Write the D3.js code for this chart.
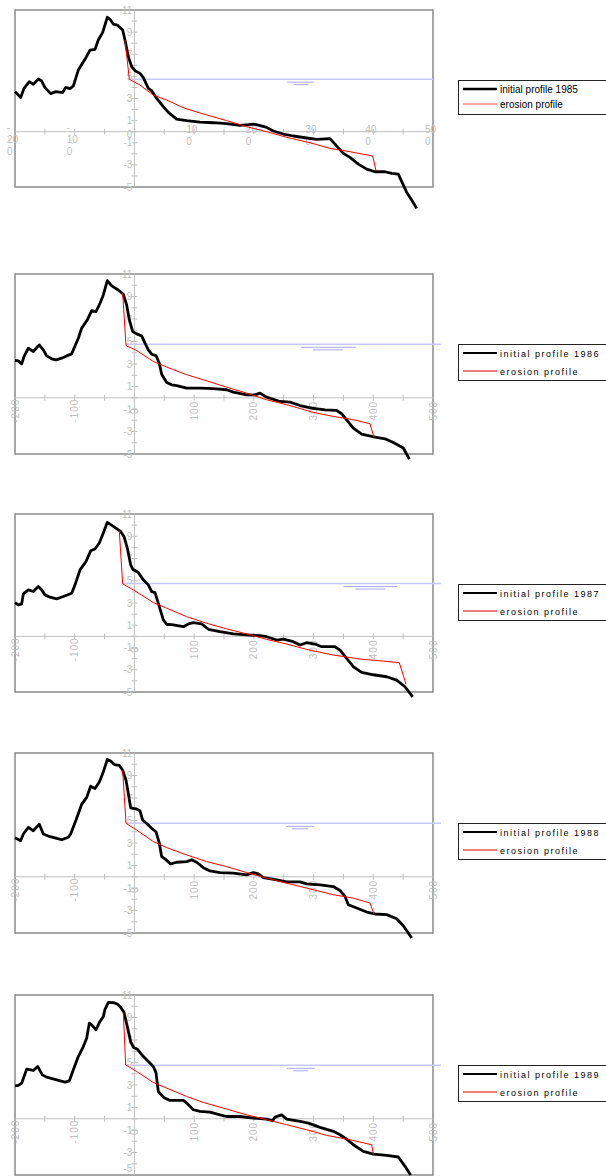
<!DOCTYPE html>
<html><head><meta charset="utf-8">
<script src="https://cdn.jsdelivr.net/npm/d3@7"></script>
<style>body{margin:0;background:#fff}svg{display:block}</style>
</head><body>
<svg id="c" width="606" height="1176"></svg>
<script>
// ---------------- DATA ----------------
const years = [1985, 1986, 1987, 1988, 1989];
const xTicks = [-200, -150, -100, -50, 0, 50, 100, 150, 200, 250, 300, 350, 400, 450, 500];
const xTickLabels = [-200, -100, 0, 100, 200, 300, 400, 500];
const yTicks = [-5,-4,-3,-2,-1,0,1,2,3,4,5,6,7,8,9,10,11];
const yTickLabels = [-5, -3, -1, 1, 3, 5, 7, 9, 11];
const waterLevel = 4.75;
const legendInitial = ["initial profile 1985","initial profile 1986","initial profile 1987","initial profile 1988","initial profile 1989"];
const legendErosion = "erosion profile";

const initial1985 = [[-200,3.62],[-190.5,3.1],[-184.9,3.92],[-176,4.52],[-169.3,4.28],[-161,4.76],[-155.3,4.58],[-149.8,3.98],[-140.3,3.44],[-131.3,3.62],[-120.2,3.53],[-115.2,4.0],[-107.9,3.89],[-102.3,4.13],[-94,5.57],[-82.8,6.54],[-74.4,7.38],[-66,7.44],[-60.5,8.29],[-53.2,8.98],[-45.4,10.34],[-40.9,10.16],[-35.4,9.73],[-28.7,9.64],[-19.7,9.19],[-15.8,8.29],[-10.2,6.78],[-4.6,5.88],[1,5.51],[9.3,5.27],[14.9,4.88],[23.3,3.92],[28.9,3.71],[37.2,3.01],[48.4,2.26],[56.8,1.75],[70.7,1.14],[87.5,1.0],[109.8,0.87],[132.2,0.81],[154.5,0.72],[176.8,0.57],[190.8,0.63],[199.1,0.69],[207.5,0.6],[221.5,0.39],[232.6,0.06],[249.4,-0.21],[266.1,-0.39],[288.4,-0.57],[305.2,-0.69],[327.5,-0.63],[335.9,-1.12],[349.8,-1.96],[361,-2.32],[375,-2.93],[388.9,-3.38],[402.9,-3.62],[419.6,-3.62],[430.8,-3.77],[441.9,-3.83],[456,-5.49],[464.3,-6.18],[472.7,-6.93]];
const erosion1985 = [[-15.8,8.29],[-8.5,4.73],[9.3,4.22],[31.6,3.31],[54,2.86],[84.7,2.11],[115.4,1.6],[154.5,1.0],[188,0.45],[221.5,0.0],[255,-0.51],[294,-1.0],[327.5,-1.51],[361,-1.81],[399,-2.2],[404.6,-3.53]];

const initial1986 = [[-200,3.31],[-194.4,3.28],[-188.8,3.01],[-184.9,3.66],[-177.7,4.4],[-169.3,4.11],[-159.3,4.7],[-152.6,4.26],[-147,3.72],[-138.6,3.46],[-131.3,3.37],[-121.8,3.52],[-113.5,3.72],[-105.1,3.9],[-101.2,4.4],[-93.9,5.29],[-88.4,6.18],[-78.9,6.92],[-71.6,7.75],[-64.3,7.66],[-57.6,8.4],[-52.1,9.14],[-45.4,10.41],[-38.1,9.94],[-27,9.58],[-18.6,9.2],[-13,8.25],[-8.5,6.92],[-2.9,5.88],[3.8,5.68],[12.1,5.5],[17.7,4.85],[23.3,4.26],[28.9,3.87],[36.1,3.75],[41.7,3.07],[45.6,2.09],[54,1.35],[62.4,1.15],[70.7,1.08],[87.5,0.85],[109.8,0.85],[132.2,0.82],[154.5,0.71],[165.7,0.5],[188,0.26],[201.9,0.26],[210.3,0.41],[221.5,0.05],[243.8,-0.33],[260.5,-0.39],[277.3,-0.69],[296.8,-0.93],[319.2,-1.08],[338.7,-1.13],[347.1,-1.42],[355.4,-1.96],[366.6,-2.7],[380.5,-3.23],[402.9,-3.5],[419.6,-3.65],[433.6,-3.97],[450.3,-4.47],[460.4,-5.45]];
const erosion1986 = [[-19.7,9.28],[-14.1,4.64],[3.8,4.2],[31.7,3.22],[54,2.73],[87.5,2.05],[115.4,1.6],[154.5,0.94],[188,0.41],[221.5,-0.18],[255,-0.62],[299.6,-1.3],[333.1,-1.66],[366.6,-1.95],[394.5,-2.31],[401.2,-3.52]];

const initial1987 = [[-200,3.04],[-194.4,2.83],[-188.8,2.92],[-186,3.82],[-177.7,4.18],[-169.3,4.03],[-161,4.48],[-155.3,4.18],[-149.8,3.73],[-141.4,3.52],[-130.2,3.37],[-119.1,3.58],[-105.1,3.88],[-99.5,4.63],[-91.1,5.98],[-81.1,6.73],[-73.3,7.69],[-66,7.85],[-58.8,8.39],[-52.1,9.29],[-45.4,10.25],[-35.3,9.89],[-23.1,9.43],[-17.5,8.98],[-11.9,7.94],[-6.3,6.43],[-2.9,6.04],[6.5,5.74],[14.9,5.08],[23.3,4.63],[28.9,4.03],[34.5,3.94],[41.7,2.68],[48.4,1.48],[54,1.09],[65.2,1.03],[81.9,0.87],[90.3,1.12],[98.7,1.24],[112.6,1.12],[123.8,0.64],[143.3,0.42],[165.7,0.22],[188,0.13],[210.3,0.06],[221.5,-0.03],[238.2,-0.33],[249.4,-0.24],[266.1,-0.48],[277.3,-0.78],[288.4,-0.57],[302.4,-0.69],[313.6,-0.93],[335.9,-0.93],[344.3,-1.23],[355.4,-1.98],[366.6,-2.73],[380.5,-3.24],[400.1,-3.45],[422.4,-3.63],[439.2,-3.93],[453.1,-4.53],[466,-5.43]];
const erosion1987 = [[-25.4,9.52],[-19.7,4.72],[-1.8,4.18],[31.7,3.04],[54,2.53],[87.5,1.77],[120.9,1.18],[154.5,0.67],[188,0.22],[221.5,-0.27],[255,-0.69],[288.4,-1.17],[333.1,-1.68],[377.8,-2.04],[416.8,-2.22],[443.6,-2.37],[454.8,-4.29]];

const initial1988 = [[-200,3.47],[-190.5,3.21],[-186,3.8],[-177.7,4.39],[-169.3,4.09],[-159.3,4.66],[-152.6,3.8],[-144.2,3.62],[-130.2,3.42],[-121.8,3.29],[-110.7,3.51],[-106.8,3.8],[-97.8,5.04],[-88.4,6.43],[-80,7.05],[-73.3,8.05],[-66,7.85],[-58.8,8.43],[-52.1,9.32],[-45.4,10.42],[-39.8,10.29],[-33.6,9.97],[-25.4,9.91],[-19.7,9.47],[-14.1,8.58],[-10.2,7.4],[-6.3,6.13],[2.6,6.04],[9.3,5.86],[13.8,5.04],[23.3,4.6],[28.9,4.3],[36.1,4.0],[41.7,2.98],[45.6,1.79],[51.2,1.59],[60.7,1.14],[70.7,1.29],[87.5,1.35],[95.9,1.5],[104.2,1.29],[115.4,0.81],[126.6,0.52],[143.3,0.37],[165.7,0.32],[188,0.17],[199.1,0.37],[207.5,0.26],[216.1,-0.07],[238.2,-0.28],[255,-0.45],[277.3,-0.45],[288.4,-0.63],[310.8,-0.72],[333.1,-0.87],[344.3,-1.22],[352.7,-1.75],[358.2,-2.49],[372.2,-2.78],[388.9,-3.14],[402.9,-3.31],[422.4,-3.37],[439.2,-3.73],[450.3,-4.35],[464.3,-5.44]];
const erosion1988 = [[-19.7,9.47],[-14.1,4.75],[3.8,4.15],[31.7,3.12],[54,2.59],[87.5,1.94],[120.9,1.35],[154.5,0.9],[188,0.37],[221.5,-0.13],[255,-0.57],[288.4,-1.01],[333.1,-1.6],[366.6,-1.9],[394.5,-2.34],[401.2,-3.29]];

const initial1989 = [[-200,2.93],[-194.4,2.96],[-188.8,3.16],[-180.5,4.41],[-169.3,4.29],[-162,4.64],[-154.2,3.9],[-147,3.7],[-130.2,3.46],[-116.3,3.25],[-109,3.37],[-102.3,4.35],[-94,5.53],[-85.6,6.42],[-80,7.16],[-75.5,8.49],[-71.6,8.34],[-64.3,7.9],[-58.8,8.55],[-52.1,9.08],[-49.3,9.73],[-43.7,10.35],[-35.3,10.32],[-28.7,10.2],[-23.1,9.91],[-17.5,9.46],[-11.9,8.19],[-6.3,6.86],[-1.8,6.36],[4.9,6.18],[13.8,5.59],[23.3,5.09],[31.7,4.64],[36.1,4.1],[40,2.42],[48.4,1.92],[59.6,1.63],[81.9,1.63],[87.5,1.39],[98.7,0.8],[109.8,0.65],[126.6,0.59],[143.3,0.35],[154.5,0.2],[176.8,0.2],[199.1,0.06],[221.5,-0.03],[231.5,-0.18],[235.4,0.15],[246.6,0.35],[255,-0.03],[277.3,-0.24],[291.3,-0.39],[310.8,-0.77],[333.1,-1.12],[344.3,-1.42],[355.4,-1.81],[366.6,-2.31],[383.4,-2.9],[400.1,-3.14],[422.4,-3.25],[441.9,-3.4],[453.1,-4.23],[462.6,-5.0]];
const erosion1989 = [[-18.6,9.46],[-14.7,4.79],[3.8,4.2],[31.7,3.22],[54,2.72],[87.5,1.98],[115.4,1.45],[154.5,0.86],[188,0.35],[221.5,-0.09],[255,-0.53],[288.4,-0.98],[321.9,-1.48],[361,-1.87],[397.3,-2.31],[400.1,-3.13]];

const initialProfiles = [initial1985, initial1986, initial1987, initial1988, initial1989];
const erosionProfiles = [erosion1985, erosion1986, erosion1987, erosion1988, erosion1989];
// water-level symbol extents (data x) per chart: [upper start, upper end, lower start, lower end]
const waterSymbolX = [[256,301,266,291],[279,371,299,349],[350,440,370,420],[254,301,264,291],[255,302,266,291]];

// ---------------- LAYOUT ----------------
const panelTop = [10, 274, 514, 753, 995];
const panelH = [177, 180, 178, 180, 180];
const plotLeft = 15, plotRight = 433;
const gray = "#c0c0c0";
const font = "'Liberation Sans', Arial, sans-serif";

const svg = d3.select("#c");
const x = d3.scaleLinear().domain([-200, 500]).range([plotLeft, plotRight]);

years.forEach((yr, i) => {
  const top = panelTop[i], bottom = top + panelH[i];
  const y = d3.scaleLinear().domain([-5, 11]).range([bottom, top]);
  const g = svg.append("g");
  const x0 = x(0), y0 = y(0);

  // plot box
  g.append("rect").attr("x", plotLeft).attr("y", top).attr("width", plotRight - plotLeft).attr("height", bottom - top)
    .attr("fill", "none").attr("stroke", "#8a8a8a").attr("stroke-width", 1.5);

  // axes
  g.append("line").attr("x1", plotLeft).attr("x2", plotRight).attr("y1", y0).attr("y2", y0).attr("stroke", gray).attr("stroke-width", 1);
  g.append("line").attr("x1", x0).attr("x2", x0).attr("y1", top).attr("y2", bottom).attr("stroke", gray).attr("stroke-width", 1);
  g.selectAll(".xt").data(xTicks.filter(d => d > -200 && d < 500)).join("line")
    .attr("x1", d => x(d)).attr("x2", d => x(d)).attr("y1", y0 - 3).attr("y2", y0 + 3).attr("stroke", gray);
  g.selectAll(".yt").data(yTicks.filter(d => d > -5 && d < 11)).join("line")
    .attr("x1", x0 - 3).attr("x2", x0 + 3).attr("y1", d => y(d)).attr("y2", d => y(d)).attr("stroke", gray);

  // y labels
  g.selectAll(".yl").data(yTickLabels).join("text")
    .attr("x", x0 - 2).attr("y", d => Math.min(y(d), 1168)).attr("dy", "0.36em")
    .attr("text-anchor", "end").attr("font-family", font).attr("font-size", 10).attr("fill", gray)
    .text(d => d);

  // x labels
  if (i === 0) {
    xTickLabels.forEach(v => {
      const s = String(v);
      let lines, base;
      if (v === 0) {
        g.append("text").attr("x", x0 - 2).attr("y", y0 + 6).attr("text-anchor", "end")
          .attr("font-family", font).attr("font-size", 10).attr("fill", gray).text("0");
        return;
      }
      if (v < 0) { lines = ["-", s.slice(1, 3), s.slice(3)]; base = y0 - 1; }
      else { lines = [s.slice(0, 2), s.slice(2)]; base = y0 + 1; }
      lines.forEach((t, k) => {
        g.append("text").attr("x", x(v) - 8).attr("y", base + k * 12)
          .attr("font-family", font).attr("font-size", 10).attr("fill", gray).text(t);
      });
    });
  } else {
    g.selectAll(".xl").data(xTickLabels).join("text")
      .attr("transform", d => `translate(${x(d) + 3.5},${y0 + 13}) rotate(-90)`)
      .attr("text-anchor", "middle").attr("font-family", font).attr("font-size", 10)
      .attr("letter-spacing", 1).attr("fill", gray).text(d => d);
  }

  // water level
  const wl = erosionProfiles[i][1][0];
  g.append("line").attr("x1", x(wl)).attr("x2", i === 0 ? plotRight : 441)
    .attr("y1", y(waterLevel)).attr("y2", y(waterLevel)).attr("stroke", "#c8c8fa").attr("stroke-width", 1.5);
  const ws = waterSymbolX[i];
  g.append("line").attr("x1", x(ws[0])).attr("x2", x(ws[1])).attr("y1", y(waterLevel) + 3).attr("y2", y(waterLevel) + 3)
    .attr("stroke", "#a8a8f0").attr("stroke-width", 1);
  g.append("line").attr("x1", x(ws[2])).attr("x2", x(ws[3])).attr("y1", y(waterLevel) + 5.5).attr("y2", y(waterLevel) + 5.5)
    .attr("stroke", "#a8a8f0").attr("stroke-width", 1);

  const line = d3.line().x(d => x(d[0])).y(d => y(d[1]));
  g.append("path").datum(initialProfiles[i]).attr("d", line)
    .attr("fill", "none").attr("stroke", "#000").attr("stroke-width", 2.8).attr("stroke-linejoin", "round");
  g.append("path").datum(erosionProfiles[i]).attr("d", line)
    .attr("fill", "none").attr("stroke", "#ff0000").attr("stroke-width", 1);

  // legend
  const ly = top + 70, lh = i === 0 ? 34 : 36;
  const l1 = ly + 9, l2 = ly + (i === 0 ? 24 : 27);
  g.append("rect").attr("x", 458.5).attr("y", ly + 0.5).attr("width", 160).attr("height", lh)
    .attr("fill", "#fff").attr("stroke", "#222").attr("stroke-width", 1);
  g.append("line").attr("x1", 463).attr("x2", 497).attr("y1", l1).attr("y2", l1).attr("stroke", "#000").attr("stroke-width", i === 0 ? 2.5 : 2);
  g.append("line").attr("x1", 463).attr("x2", 497).attr("y1", l2).attr("y2", l2).attr("stroke", i === 0 ? "#ff5050" : "#e00000").attr("stroke-width", 1);
  const fs = i === 0 ? 10 : 9, ls = i === 0 ? 0 : 1.5;
  g.append("text").attr("x", 500).attr("y", l1 + 3.5).attr("font-family", font).attr("font-size", fs)
    .attr("letter-spacing", ls).attr("fill", "#000").text(legendInitial[i]);
  g.append("text").attr("x", 500).attr("y", l2 + 3.5).attr("font-family", font).attr("font-size", fs)
    .attr("letter-spacing", ls).attr("fill", "#000").text(legendErosion);
});
</script>
</body></html>
